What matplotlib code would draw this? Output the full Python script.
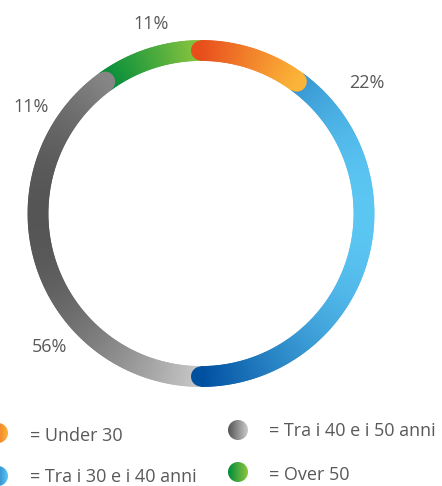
import numpy as np
import matplotlib
matplotlib.use("Agg")
import matplotlib.pyplot as plt
from matplotlib.collections import PolyCollection
from matplotlib.patches import Circle
from matplotlib.colors import to_rgb, LinearSegmentedColormap

# groups clockwise from 12 o'clock, share of the ring each arc covers
groups = ["Under 30", "Tra i 30 e i 40 anni", "Tra i 40 e i 50 anni", "Over 50"]
shares = [10, 40, 40, 10]
# percent texts printed round the ring
pct_labels = ["11%", "22%", "56%", "11%"]

# horizontal gradient of each arc: left colour -> right colour
grad_left = ["#e84e1c", "#0050a0", "#555555", "#008c3a"]
grad_right = ["#fbb438", "#5cc6f3", "#cacaca", "#8dc63f"]

W, H = 442, 486
cx, cy = 201, 213.5
r_mid, ring_w = 163, 20
text_col = "#595959"

fig = plt.figure(figsize=(W / 100, H / 100), dpi=100)
ax = fig.add_axes([0, 0, 1, 1])
ax.set_xlim(0, W)
ax.set_ylim(H, 0)
ax.axis("off")


def pt(theta, r):
    t = np.radians(theta)
    return cx + r * np.sin(t), cy - r * np.cos(t)


def blend(c0, c1, f):
    f = np.clip(f, 0, 1)[:, None]
    return (1 - f) * np.array(to_rgb(c0)) + f * np.array(to_rgb(c1))


bounds = np.concatenate([[0], np.cumsum(shares)]) / sum(shares) * 360

# drawing order decides which rounded end sits on top
for z, i in enumerate([3, 2, 1, 0]):
    a0, a1 = bounds[i], bounds[i + 1]
    th = np.linspace(a0, a1, int((a1 - a0) * 3) + 2)
    xi, yi = pt(th, r_mid - ring_w / 2)
    xo, yo = pt(th, r_mid + ring_w / 2)
    xm, _ = pt(th, r_mid)
    lo, hi = xm.min(), xm.max()
    polys = [[(xi[k], yi[k]), (xo[k], yo[k]), (xo[k + 1], yo[k + 1]), (xi[k + 1], yi[k + 1])]
             for k in range(len(th) - 1)]
    xc = (xm[:-1] + xm[1:]) / 2
    cols = blend(grad_left[i], grad_right[i], (xc - lo) / (hi - lo))
    # rounded ends
    for a in (a0, a1):
        ex, ey = pt(a, r_mid)
        c = blend(grad_left[i], grad_right[i], np.array([(ex - lo) / (hi - lo)]))[0]
        ax.add_patch(Circle((ex, ey), ring_w / 2, color=c, lw=0, zorder=2 + z * 2))
    ax.add_collection(PolyCollection(polys, facecolors=cols, edgecolors=cols,
                                     linewidths=0.6, zorder=3 + z * 2))

# percent labels (x, baseline)
pct_pos = [(151.5, 29), (366.5, 88), (49.5, 352), (31.5, 112)]
for (x, y), s in zip(pct_pos, pct_labels):
    ax.text(x, y, s, ha="center", va="baseline", fontsize=13,
            family="Open Sans", color=text_col)

# legend: gradient dots + text
dot_pos = [(-2, 433), (-2, 476), (238, 430), (238, 472)]
txt_pos = [(30, 441), (30, 482), (269, 436), (269, 480)]
grad = np.linspace(0, 1, 64)[None, :]
for i, name in enumerate(groups):
    x, y = dot_pos[i]
    cmap = LinearSegmentedColormap.from_list("g%d" % i, [grad_left[i], grad_right[i]])
    im = ax.imshow(grad, cmap=cmap, extent=(x - 10, x + 10, y + 10, y - 10),
                   aspect="auto", zorder=20, interpolation="bilinear")
    im.set_clip_path(Circle((x, y), 10, transform=ax.transData))
    tx, ty = txt_pos[i]
    ax.text(tx, ty, "= " + name, ha="left", va="baseline", fontsize=13,
            family="Open Sans", color=text_col)

ax.set_xlim(0, W)
ax.set_ylim(H, 0)
fig.savefig("out.png", dpi=100)
